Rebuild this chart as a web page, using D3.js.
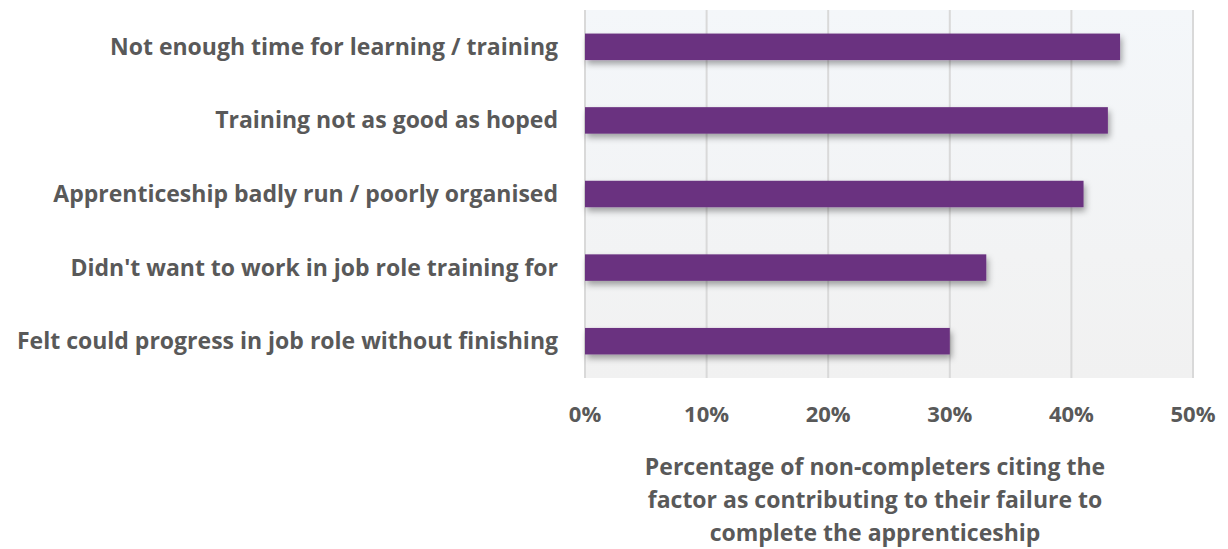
<!DOCTYPE html>
<html>
<head>
<meta charset="utf-8">
<script src="https://cdn.jsdelivr.net/npm/d3@7"></script>
<style>
  body { margin: 0; background: #fff; }
  text { font-family: "Open Sans", Lato, sans-serif; font-weight: bold; fill: #595959; }
</style>
</head>
<body>
<div id="chart"></div>
<script>
const categories = [
    "Not enough time for learning / training",
    "Training not as good as hoped",
    "Apprenticeship badly run / poorly organised",
    "Didn't want to work in job role training for",
    "Felt could progress in job role without finishing"
];
const values = [44, 43, 41, 33, 30];
const ticks = [0, 10, 20, 30, 40, 50];
const axisTitle = [
    "Percentage of non-completers citing the",
    "factor as contributing to their failure to",
    "complete the apprenticeship"
];

let svg = d3.select("#chart").append("svg")
    .attr("width", 1228).attr("height", 549);

let defs = svg.append("defs");
let grad = defs.append("linearGradient").attr("id", "bg")
    .attr("x1", "0").attr("y1", "0").attr("x2", "0").attr("y2", "1");
grad.append("stop").attr("offset", "0%").attr("stop-color", "#F4F7FA");
grad.append("stop").attr("offset", "100%").attr("stop-color", "#F1F1F1");

let shadow = defs.append("filter").attr("id", "shadow")
    .attr("x", "-5%").attr("y", "-30%").attr("width", "115%").attr("height", "180%");
shadow.append("feDropShadow")
    .attr("dx", 2).attr("dy", 4).attr("stdDeviation", 3)
    .attr("flood-color", "#000").attr("flood-opacity", 0.35);

let x = d3.scaleLinear().domain([0, 50]).range([585, 1193]);
let y = d3.scaleBand().domain(categories).range([10, 378]).paddingInner(0.64).paddingOuter(0.32);

// plot background
svg.append("rect")
    .attr("x", x(0)).attr("y", 10)
    .attr("width", x(50) - x(0)).attr("height", 368)
    .attr("fill", "url(#bg)");

// gridlines
svg.append("g").selectAll("line")
    .data(ticks)
    .join("line")
    .attr("x1", d => x(d)).attr("x2", d => x(d))
    .attr("y1", 10).attr("y2", 378)
    .attr("stroke", "#D9D9D9").attr("stroke-width", 2);

// bars
svg.append("g").selectAll("rect")
    .data(values)
    .join("rect")
    .attr("x", x(0))
    .attr("y", (d, i) => y(categories[i]))
    .attr("width", d => x(d) - x(0))
    .attr("height", y.bandwidth())
    .attr("fill", "#6B3280")
    .attr("filter", "url(#shadow)");

// category labels
svg.append("g").selectAll("text")
    .data(categories)
    .join("text")
    .attr("x", 558)
    .attr("y", d => y(d) + y.bandwidth() / 2)
    .attr("dy", "0.35em")
    .attr("text-anchor", "end")
    .style("font-size", "23px")
    .text(d => d);

// tick labels
svg.append("g").selectAll("text")
    .data(ticks)
    .join("text")
    .attr("x", d => x(d))
    .attr("y", 422)
    .attr("text-anchor", "middle")
    .style("font-size", "22px")
    .text(d => d + "%");

// axis title
svg.append("g").selectAll("text")
    .data(axisTitle)
    .join("text")
    .attr("x", 875)
    .attr("y", (d, i) => 475 + i * 33)
    .attr("text-anchor", "middle")
    .style("font-size", "23px")
    .text(d => d);
</script>
</body>
</html>
